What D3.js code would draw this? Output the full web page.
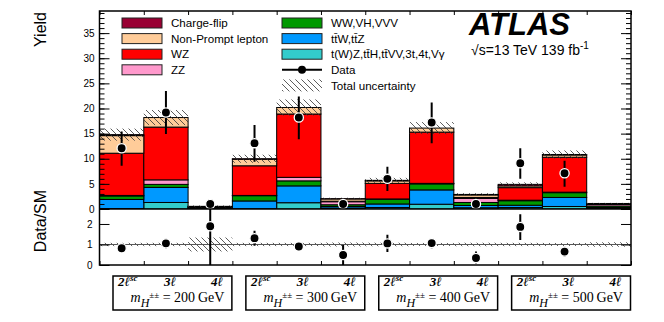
<!DOCTYPE html>
<html>
<head>
<meta charset="utf-8">
<script src="https://cdn.jsdelivr.net/npm/d3@7"></script>
<style>
  body { margin: 0; background: #fff; }
  svg text { font-family: "Liberation Sans", Arial, sans-serif; }
</style>
</head>
<body>
<script>
// bins: 4 mass points x 3 channels
var masses = [200, 300, 400, 500];
var channels = ['2ℓ', '3ℓ', '4ℓ'];

// stacked backgrounds, one value per bin (bottom of stack first)
var tOther     = [0.1, 1.3, 0.05, 0.05, 1.25, 0.2, 0.3, 0.95, 0.25, 0.3, 0.5, 0.1];
var ttV        = [1.8, 3.0, 0.1, 1.55, 3.35, 0.3, 0.7, 2.85, 0.45, 0.45, 1.8, 0.2];
var vvv        = [0.7, 0.6, 0.05, 1.05, 1.0, 0.35, 0.95, 1.2, 0.6, 0.9, 0.95, 0.3];
var zz         = [0.1, 0.9, 0.2, 0.05, 0.7, 0.6, 0.05, 0.1, 0.8, 0.1, 0.1, 0.3];
var wz         = [8.4, 10.5, 0.03, 5.9, 12.6, 0.1, 3.1, 10.2, 0.2, 2.5, 6.95, 0.1];
var nonPrompt  = [3.5, 1.9, 0.1, 1.3, 1.3, 0.45, 0.5, 0.8, 0.5, 0.35, 0.45, 0.1];
var chargeFlip = [0.2, 0, 0, 0.1, 0, 0.05, 0.1, 0, 0.1, 0.3, 0.1, 0];
var totUnc     = [1.2, 1.5, 0.18, 0.8, 1.6, 0.2, 0.5, 1.2, 0.25, 0.4, 0.8, 0.12];

// observed data with asymmetric errors
var data        = [12.1, 19.2, 1.0, 13.1, 18.2, 1.0, 6.0, 17.2, 1.0, 9.1, 7.1, null];
var dataErrDown = [3.5, 4.3, 1.0, 3.7, 4.3, 1.0, 2.4, 4.1, 0.77, 3.1, 2.65, null];
var dataErrUp   = [3.3, 4.3, 1.0, 3.6, 4.2, 1.0, 2.4, 4.0, 0.9, 3.0, 2.5, null];

var mainTicks = [0, 5, 10, 15, 20, 25, 30, 35];
var ratioTicks = [0, 1, 2];

var procs = [
  {key: 'tOther', vals: tOther, color: '#33cccc', label: 't(W)Z,tt\u0304H,tt\u0304VV,3t,4t,V\u03b3'},
  {key: 'ttV', vals: ttV, color: '#0099ff', label: 'tt\u0304W,tt\u0304Z'},
  {key: 'vvv', vals: vvv, color: '#009900', label: 'WW,VH,VVV'},
  {key: 'zz', vals: zz, color: '#ff99cc', label: 'ZZ'},
  {key: 'wz', vals: wz, color: '#ff0000', label: 'WZ'},
  {key: 'nonPrompt', vals: nonPrompt, color: '#ffcc99', label: 'Non-Prompt lepton'},
  {key: 'chargeFlip', vals: chargeFlip, color: '#990033', label: 'Charge-flip'}
];

var W = 664, H = 322;
var padL = 99.5, padR = 631, padT = 11, mainBottom = 209, ratioBottom = 265;

var table = d3.range(12).map(function(i) {
  var row = {bin: i};
  procs.forEach(function(p) { row[p.key] = p.vals[i]; });
  row.total = d3.sum(procs, function(p) { return p.vals[i]; });
  return row;
});

var x = d3.scaleLinear().domain([0, 12]).range([padL, padR]);
var y = d3.scaleLinear().domain([0, 39.4]).range([mainBottom, padT]);
var yr = d3.scaleLinear().domain([0, 2.73]).range([ratioBottom, mainBottom]);

var svg = d3.select('body').append('svg')
  .attr('width', W)
  .attr('height', H);

var defs = svg.append('defs');
var pat = defs.append('pattern')
  .attr('id', 'hatch')
  .attr('patternUnits', 'userSpaceOnUse')
  .attr('width', 6)
  .attr('height', 6);
pat.append('path')
  .attr('d', 'M-1,-1 L7,7 M-7,-1 L1,7 M5,-1 L13,7')
  .style('stroke', '#333')
  .style('stroke-width', 0.8);

defs.append('clipPath').attr('id', 'clipMain')
  .append('rect').attr('x', padL).attr('y', padT).attr('width', padR - padL).attr('height', mainBottom - padT);
defs.append('clipPath').attr('id', 'clipRatio')
  .append('rect').attr('x', padL).attr('y', mainBottom).attr('width', padR - padL).attr('height', ratioBottom - mainBottom);

// Stacked bars
var stack = d3.stack().keys(procs.map(function(p) { return p.key; }));
var series = stack(table);

var main = svg.append('g').attr('clip-path', 'url(#clipMain)');

main.selectAll('g.layer')
  .data(series)
  .enter()
  .append('g')
  .attr('class', 'layer')
  .style('fill', function(d, i) { return procs[i].color; })
  .selectAll('rect')
  .data(function(d) { return d; })
  .enter()
  .append('rect')
  .attr('x', function(d) { return x(d.data.bin); })
  .attr('width', x(1) - x(0))
  .attr('y', function(d) { return y(d[1]); })
  .attr('height', function(d) { return y(d[0]) - y(d[1]); })
  .style('stroke', '#000')
  .style('stroke-width', 1);

// total uncertainty hatch
main.selectAll('rect.unc')
  .data(table)
  .enter()
  .append('rect')
  .attr('class', 'unc')
  .attr('x', function(d) { return x(d.bin); })
  .attr('width', x(1) - x(0))
  .attr('y', function(d) { return y(d.total + totUnc[d.bin]); })
  .attr('height', function(d) { return y(d.total - totUnc[d.bin]) - y(d.total + totUnc[d.bin]); })
  .style('fill', 'url(#hatch)');

// Ratio panel
var ratio = svg.append('g').attr('clip-path', 'url(#clipRatio)');

ratio.selectAll('rect.unc')
  .data(table)
  .enter()
  .append('rect')
  .attr('x', function(d) { return x(d.bin); })
  .attr('width', x(1) - x(0))
  .attr('y', function(d) { return yr(1 + totUnc[d.bin] / d.total); })
  .attr('height', function(d) { return yr(1 - totUnc[d.bin] / d.total) - yr(1 + totUnc[d.bin] / d.total); })
  .style('fill', 'url(#hatch)');

ratio.append('line')
  .attr('x1', padL).attr('x2', padR)
  .attr('y1', yr(1)).attr('y2', yr(1))
  .style('stroke', '#555')
  .style('stroke-width', 1);

// data points
var pts = table.filter(function(d) { return data[d.bin] !== null; });

function drawPoints(g, sy, scaleBy) {
  g.selectAll('line.err')
    .data(pts)
    .enter()
    .append('line')
    .attr('x1', function(d) { return x(d.bin + 0.5); })
    .attr('x2', function(d) { return x(d.bin + 0.5); })
    .attr('y1', function(d) { return sy((data[d.bin] - dataErrDown[d.bin]) / scaleBy(d)); })
    .attr('y2', function(d) { return sy((data[d.bin] + dataErrUp[d.bin]) / scaleBy(d)); })
    .style('stroke', '#000')
    .style('stroke-width', 2);
  g.selectAll('circle.pt')
    .data(pts)
    .enter()
    .append('circle')
    .attr('cx', function(d) { return x(d.bin + 0.5); })
    .attr('cy', function(d) { return sy(data[d.bin] / scaleBy(d)); })
    .attr('r', 4.6)
    .style('fill', '#000')
    .style('stroke', '#fff')
    .style('stroke-width', 1.3);
}
drawPoints(main, y, function() { return 1; });
drawPoints(ratio, yr, function(d) { return d.total; });

// Axes
function minorVals(max, step) {
  var v = [];
  for (var k = 0; k <= max + 1e-9; k += step) v.push(k);
  return v;
}

var ax = svg.append('g').style('font-size', '14px');
ax.append('g')
  .attr('transform', 'translate(' + padL + ',0)')
  .call(d3.axisLeft(y).tickValues(mainTicks).tickSize(-10).tickPadding(5));
ax.append('g')
  .attr('transform', 'translate(' + padL + ',0)')
  .call(d3.axisLeft(y).tickValues(minorVals(39, 1)).tickSize(-5).tickFormat(''));
ax.append('g')
  .attr('transform', 'translate(' + padR + ',0)')
  .call(d3.axisRight(y).tickValues(mainTicks).tickSize(-10).tickFormat(''));
ax.append('g')
  .attr('transform', 'translate(' + padR + ',0)')
  .call(d3.axisRight(y).tickValues(minorVals(39, 1)).tickSize(-5).tickFormat(''));

ax.append('g')
  .attr('transform', 'translate(' + padL + ',0)')
  .call(d3.axisLeft(yr).tickValues(ratioTicks).tickSize(-10).tickPadding(7).tickFormat(d3.format('d')));
ax.append('g')
  .attr('transform', 'translate(' + padR + ',0)')
  .call(d3.axisRight(yr).tickValues(ratioTicks).tickSize(-10).tickFormat(''));

// bin edge ticks on top and bottom
ax.append('g')
  .attr('transform', 'translate(0,' + padT + ')')
  .call(d3.axisTop(x).ticks(12).tickSize(-4).tickFormat(''));
ax.append('g')
  .attr('transform', 'translate(0,' + ratioBottom + ')')
  .call(d3.axisBottom(x).ticks(12).tickSize(-4).tickFormat(''));

ax.selectAll('.domain').remove();
ax.selectAll('line').style('stroke', '#000');
ax.selectAll('text').style('font-family', '"Liberation Sans", Arial, sans-serif').attr('fill', '#000');

// frames
svg.append('rect')
  .attr('x', padL).attr('y', padT)
  .attr('width', padR - padL).attr('height', ratioBottom - padT)
  .style('fill', 'none').style('stroke', '#000').style('stroke-width', 1.5);
svg.append('line')
  .attr('x1', padL).attr('x2', padR)
  .attr('y1', mainBottom).attr('y2', mainBottom)
  .style('stroke', '#000').style('stroke-width', 1.5);

// axis titles
svg.append('text')
  .attr('transform', 'translate(46,12) rotate(-90)')
  .attr('text-anchor', 'end')
  .style('font-size', '16px')
  .text('Yield');
svg.append('text')
  .attr('transform', 'translate(46,221) rotate(-90)')
  .attr('text-anchor', 'middle')
  .style('font-size', '16px')
  .text('Data/SM');

// Legend
var legCol1 = [procs[6], procs[5], procs[4], procs[3]];
var legCol2 = [procs[2], procs[1], procs[0]];
var rowY = [23, 38.6, 54.2, 69.8, 85.4];

function legendBoxes(list, sx) {
  var g = svg.append('g');
  g.selectAll('rect')
    .data(list)
    .enter()
    .append('rect')
    .attr('x', sx)
    .attr('y', function(d, i) { return rowY[i] - 5; })
    .attr('width', 40)
    .attr('height', 10)
    .style('fill', function(d) { return d.color; })
    .style('stroke', '#222')
    .style('stroke-width', 1);
  g.selectAll('text')
    .data(list)
    .enter()
    .append('text')
    .attr('x', sx + 49)
    .attr('y', function(d, i) { return rowY[i]; })
    .attr('dy', '0.36em')
    .style('font-size', '11.6px')
    .text(function(d) { return d.label; });
}
legendBoxes(legCol1, 122);
legendBoxes(legCol2, 282);

// Data and uncertainty entries
svg.append('line')
  .attr('x1', 282).attr('x2', 322)
  .attr('y1', rowY[3]).attr('y2', rowY[3])
  .style('stroke', '#000').style('stroke-width', 2);
svg.append('circle')
  .attr('cx', 302).attr('cy', rowY[3]).attr('r', 4)
  .style('fill', '#000');
svg.append('text')
  .attr('x', 331).attr('y', rowY[3]).attr('dy', '0.36em')
  .style('font-size', '11.6px').text('Data');
svg.append('rect')
  .attr('x', 282).attr('y', rowY[4] - 6)
  .attr('width', 40).attr('height', 12)
  .style('fill', 'url(#hatch)');
svg.append('text')
  .attr('x', 331).attr('y', rowY[4]).attr('dy', '0.36em')
  .style('font-size', '11.6px').text('Total uncertainty');

// ATLAS label
svg.append('text')
  .attr('x', 469).attr('y', 35)
  .style('font-size', '31px')
  .style('font-weight', 'bold')
  .style('font-style', 'italic')
  .text('ATLAS');
var lumi = svg.append('text')
  .attr('x', 471).attr('y', 55)
  .style('font-size', '14px');
lumi.append('tspan').text('\u221As=13 TeV 139 fb');
lumi.append('tspan').attr('dy', -6).style('font-size', '10px').text('-1');

// Bottom category boxes
var boxes = svg.append('g');
masses.forEach(function(m, gi) {
  var bl = x(gi * 3) + 13.5, br = x(gi * 3 + 3) - 0.5;
  boxes.append('rect')
    .attr('x', bl).attr('y', 276)
    .attr('width', br - bl).attr('height', 34)
    .style('fill', 'none').style('stroke', '#000').style('stroke-width', 1.5);

  var cx = [bl + 5, bl + 57, bl + 104];
  channels.forEach(function(c, ci) {
    var t = boxes.append('text')
      .attr('x', cx[ci]).attr('y', 286)
      .attr('text-anchor', ci === 0 ? 'start' : 'middle')
      .style('font-family', '"Liberation Serif", "Times New Roman", serif')
      .style('font-size', '13px')
      .style('font-weight', 'bold')
      .style('font-style', 'italic')
      .text(c);
    if (ci === 0) {
      t.append('tspan').attr('dy', -5).style('font-size', '9px').text('sc');
    }
  });

  var lab = boxes.append('text')
    .attr('x', (bl + br) / 2 + 5).attr('y', 302)
    .attr('text-anchor', 'middle')
    .style('font-family', '"Liberation Serif", "Times New Roman", serif')
    .style('font-size', '14px');
  lab.append('tspan').style('font-style', 'italic').text('m');
  lab.append('tspan').attr('dy', 5).style('font-style', 'italic').style('font-size', '12px').text('H');
  lab.append('tspan').attr('dy', -9).style('font-size', '9px').text('\u00b1\u00b1');
  lab.append('tspan').attr('dy', 4).text('  = ' + m + '\u2009GeV');
});
</script>
</body>
</html>
